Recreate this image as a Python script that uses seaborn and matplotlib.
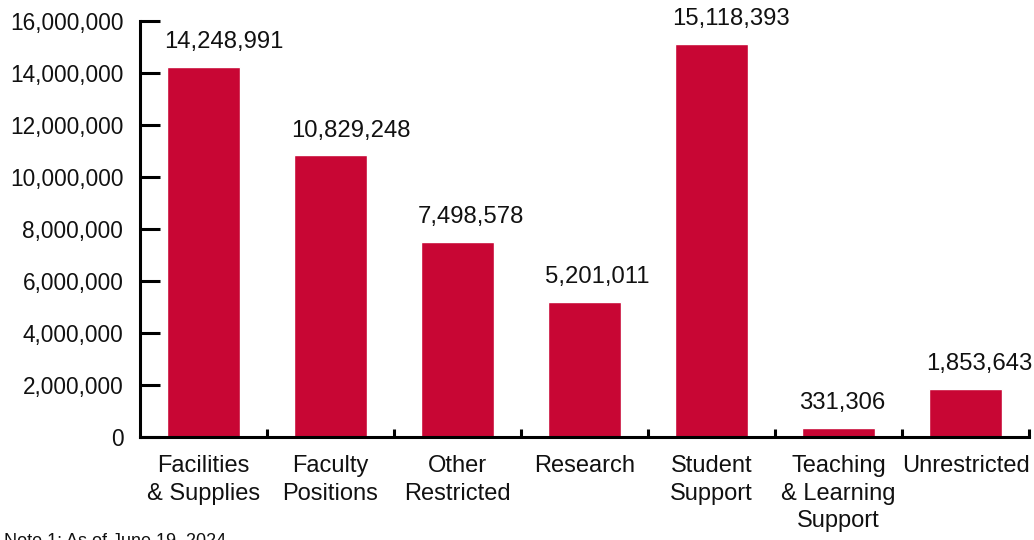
import pandas as pd
import matplotlib.pyplot as plt
import seaborn as sns
from matplotlib.ticker import FuncFormatter, FixedLocator

categories = ["Facilities\n& Supplies", "Faculty\nPositions", "Other\nRestricted", "Research",
              "Student\nSupport", "Teaching\n& Learning\nSupport", "Unrestricted"]
amounts = [14248991, 10829248, 7498578, 5201011, 15118393, 331306, 1853643]
yticks = [0, 2000000, 4000000, 6000000, 8000000, 10000000, 12000000, 14000000, 16000000]
note = "Note 1: As of June 19, 2024"

bar_color = "#C80634"

sns.set_style("ticks")
plt.rcParams['font.family'] = ['Liberation Sans', 'DejaVu Sans']

df = pd.DataFrame({"category": categories, "amount": amounts})

fig = plt.figure(figsize=(10.34, 5.40), dpi=100)
ax = fig.add_axes([140 / 1034, 103 / 540, 889 / 1034, 416 / 540])
sns.barplot(data=df, x="category", y="amount", color=bar_color, saturation=1,
            width=0.567, ax=ax)

ax.set_xlim(-0.5, len(categories) - 0.5)
ax.set_ylim(0, 16000000)
ax.set_yticks(yticks)
ax.yaxis.set_major_formatter(FuncFormatter(lambda v, p: f"{int(v):,}"))
ax.set_xlabel("")
ax.set_ylabel("")

# value labels, roughly left-aligned with each bar's left edge
for patch, val in zip(ax.patches, amounts):
    ax.annotate(f"{val:,}", (patch.get_x(), patch.get_height()),
                xytext=(-2.5, 10), textcoords="offset points",
                ha="left", va="bottom", fontsize=17.2, color="#111111",
                annotation_clip=False)

for side in ["top", "right"]:
    ax.spines[side].set_visible(False)
for side in ["left", "bottom"]:
    ax.spines[side].set_linewidth(2.2)
    ax.spines[side].set_color("black")

ax.tick_params(axis="y", direction="in", length=14.5, width=2.2, pad=12,
               labelsize=16.3, colors="black")
ax.tick_params(axis="y", labelcolor="#111111")
ax.tick_params(axis="x", which="major", length=0, pad=13, labelsize=17,
               labelcolor="#111111")
ax.xaxis.set_minor_locator(FixedLocator([i + 0.5 for i in range(len(categories))]))
ax.tick_params(axis="x", which="minor", direction="in", length=6, width=2.2, colors="black")
for lbl in ax.get_xticklabels():
    lbl.set_linespacing(1.33)

fig.text(0.004, 7 / 540, note, fontsize=13, ha="left", va="top", color="#111111")

fig.savefig("out.png", dpi=100)
